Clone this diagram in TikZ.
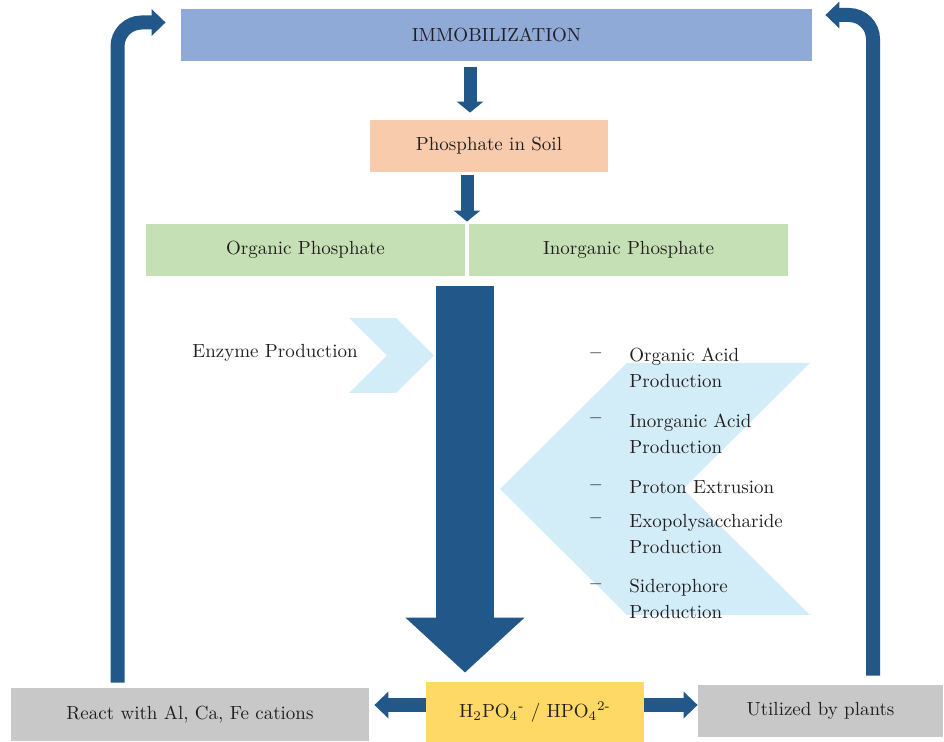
\documentclass[tikz,border=0pt]{standalone}
\usepackage{amsmath}
\usepackage{tikz}
\usetikzlibrary{arrows.meta,calc}

\definecolor{flowblue}{RGB}{34,88,137}
\definecolor{immobblue}{RGB}{143,170,214}
\definecolor{soilpeach}{RGB}{248,203,173}
\definecolor{phosgreen}{RGB}{197,224,180}
\definecolor{ionyellow}{RGB}{255,217,102}
\definecolor{sinkgray}{RGB}{200,200,200}
\definecolor{chevblue}{RGB}{210,236,248}
\definecolor{textdark}{RGB}{35,31,32}

\begin{document}
\begin{tikzpicture}[x=0.5pt,y=-0.5pt,every node/.style={text=textdark,font=\fontsize{9.5}{13.25}\selectfont},box/.style={shape=rectangle,inner sep=0pt,minimum height=26pt},boxI/.style={box,fill=immobblue,minimum width=315.5pt},boxS/.style={box,fill=soilpeach,minimum width=119pt},boxG/.style={box,fill=phosgreen,minimum width=159.5pt},boxY/.style={box,fill=ionyellow,minimum width=109pt,minimum height=30pt},boxR/.style={box,fill=sinkgray,minimum width=179pt,minimum height=26.5pt},boxP/.style={box,fill=sinkgray,minimum width=122.5pt},downflow/.style={draw=flowblue,line width=6.5pt,-{Triangle[length=5.5pt,width=13pt]}},sideflow/.style={draw=flowblue,line width=7pt,-{Triangle[length=7pt,width=13pt]}},loopflow/.style={sideflow,rounded corners=12pt},bigflow/.style={draw=flowblue,line width=29pt,-{Triangle[length=27.5pt,width=58pt]}},chev/.style={fill=chevblue},item/.style={anchor=base west,align=left,inner sep=0pt},dashmark/.style={anchor=base west,inner sep=0pt}]
\useasboundingbox (0,0) rectangle (944,742);

\coordinate (c1) at (470,0);
\coordinate (c2) at (467,0);
\coordinate (c3) at (465,0);
\coordinate (cm) at (0,705);
\coordinate (lx) at (117.5,0);
\coordinate (ly) at (0,22.5);
\coordinate (rx) at (873,0);
\coordinate (ry) at (0,15);

\node[boxI] (immob) at (496.5,35) {IMMOBILIZATION};
\node[boxS] (soil) at (489,146) {Phosphate in Soil};
\node[boxG] (org) at (305.5,250) {Organic Phosphate};
\node[boxG] (inorg) at (628.5,250) {Inorganic Phosphate};
\node[boxY] (ion) at (535,712) {H\textsubscript{2}PO\textsubscript{4}\textsuperscript{-} / HPO\textsubscript{4}\textsuperscript{2-}};
\node[boxR] (react) at (190,714.5) {React with Al, Ca, Fe cations};
\node[boxP] (plants) at (820.5,711) {Utilized by plants};

\fill[chev] (349,318) -- (396,318) -- (434,355.5) -- (396,393) -- (349,393) -- (387,355.5) -- cycle;
\fill[chev] (627,363) -- (810,363) -- (683,489) -- (810,615) -- (627,615) -- (500,489) -- cycle;

\draw[downflow] ([yshift=-3pt]immob.south -| c1) -- ([yshift=3.5pt]soil.north -| c1);
\draw[downflow] ([yshift=-1.5pt]soil.south -| c2) -- ([yshift=1pt]org.north -| c2);
\draw[bigflow] ([yshift=-5pt]org.south -| c3) -- ([yshift=4.5pt]ion.north -| c3);

\draw[sideflow] (ion.west |- cm) -- ([xshift=2.5pt]react.east |- cm);
\draw[sideflow] (ion.east |- cm) -- (plants.west |- cm);

\draw[loopflow] ([yshift=2.5pt]react.north -| lx) |- ([xshift=-7.5pt]immob.west |- ly);
\draw[loopflow] ([yshift=4.5pt]plants.north -| rx) |- ([xshift=6.5pt]immob.east |- ry);

\node[anchor=base east,inner sep=0pt] (enzyme) at (358,358) {Enzyme Production};

\foreach \ya/\yb/\t [count=\i] in {361.5/388/{Organic Acid\\Production},427/454/{Inorganic Acid\\Production},494/494/{Proton Extrusion},527/554/{Exopolysaccharide\\Production},593/619/{Siderophore\\Production}}{
  \node[item] (mech\i) at (629,\yb) {\t};
  \node[dashmark] (dash\i) at ([xshift=-19.5pt,yshift=1.5pt]mech\i.west |- 0,\ya) {\textbf{--}};
}
\end{tikzpicture}
\end{document}
